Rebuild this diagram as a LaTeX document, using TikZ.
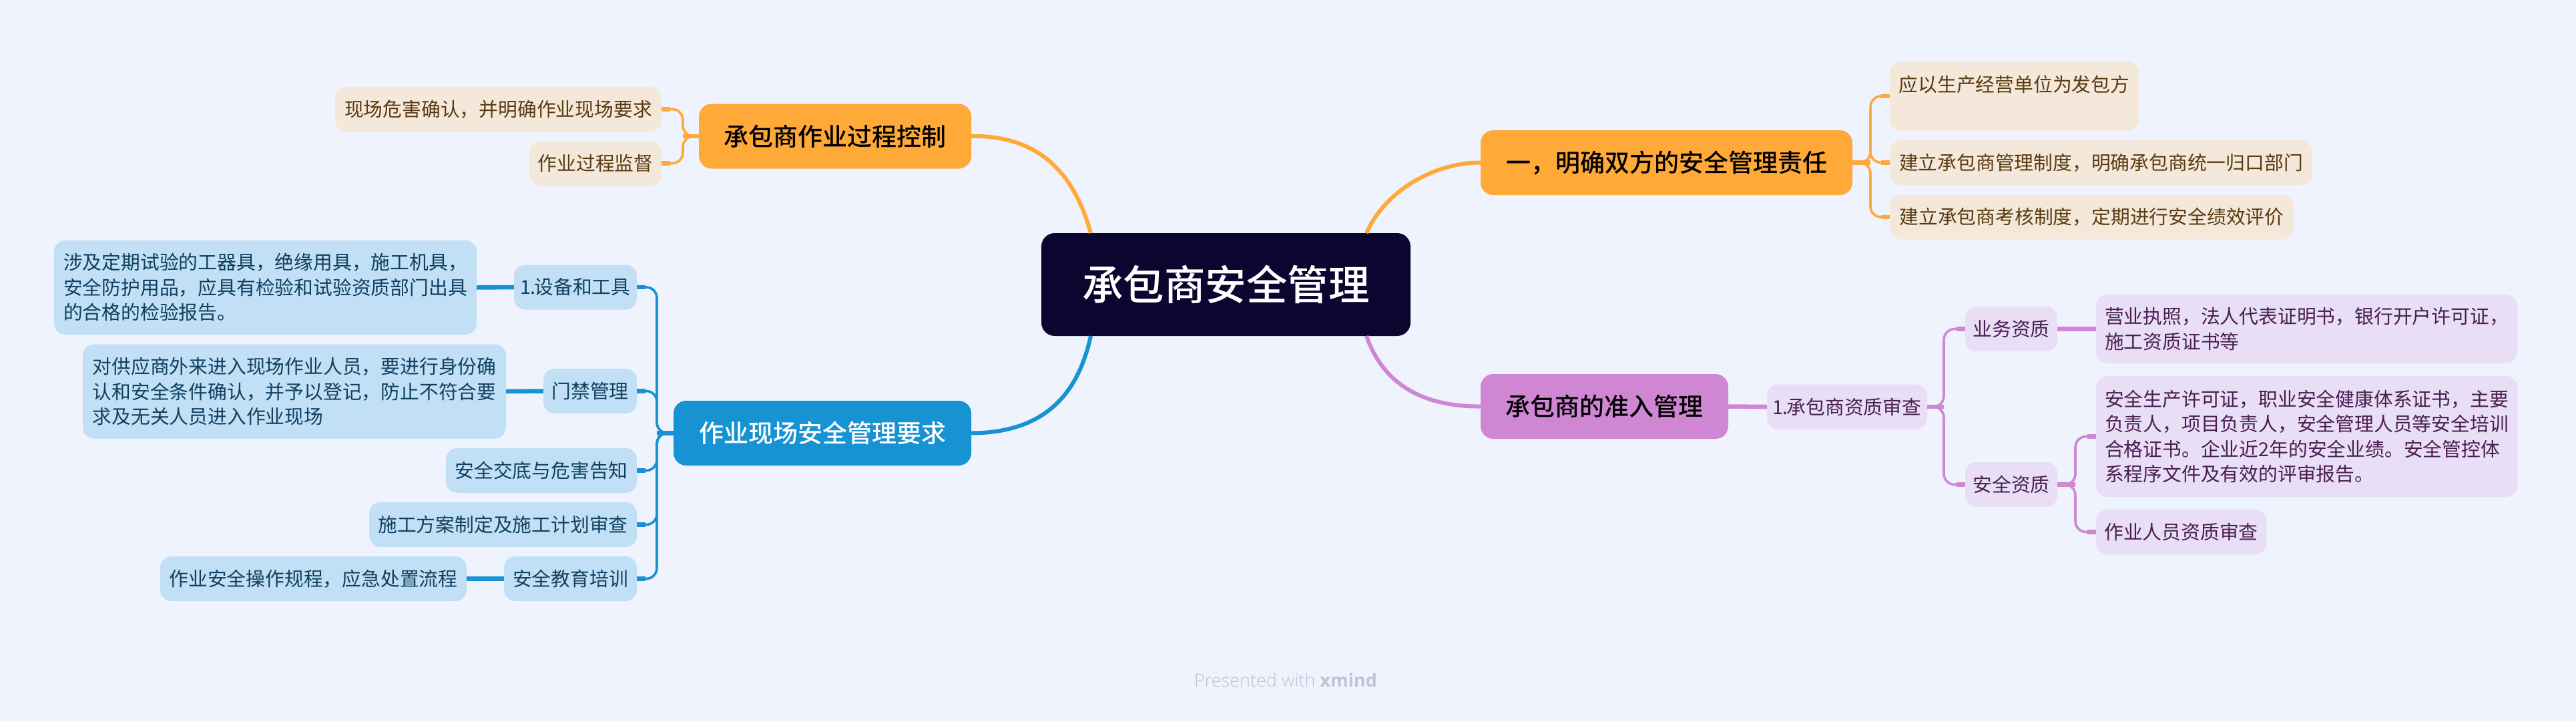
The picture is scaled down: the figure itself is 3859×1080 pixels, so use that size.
\documentclass[tikz,border=0pt]{standalone}
\usepackage{fontspec}
\usetikzlibrary{calc}
\newfontfamily\cjk{Noto Sans CJK SC}
\newfontfamily\cjkm{Noto Sans CJK SC Medium}
\newfontfamily\wm{Open Sans Light}[BoldFont=Open Sans Bold]
\definecolor{bg}{HTML}{EEF3FE}
\definecolor{ctr}{HTML}{0B0530}
\definecolor{ora}{HTML}{FFA939}
\definecolor{orl}{HTML}{F3E8DA}
\definecolor{ort}{HTML}{5A3A10}
\definecolor{blu}{HTML}{1792D2}
\definecolor{bll}{HTML}{C1DFF5}
\definecolor{blt}{HTML}{0F3F60}
\definecolor{pur}{HTML}{D087D3}
\definecolor{pul}{HTML}{E8DEF5}
\definecolor{put}{HTML}{4A1E52}
\definecolor{wmc}{HTML}{BEC4D3}
\tikzset{
  box/.style={rectangle,inner sep=0pt,align=left,draw=none},
  leaf/.style={box,rounded corners=17pt,font=\cjk\fontsize{28.8}{37.5}\selectfont},
  branch/.style={box,rounded corners=19pt,font=\cjkm\fontsize{37}{44}\selectfont,minimum height=97pt},
  oleaf/.style={leaf,fill=orl,text=ort},
  bleaf/.style={leaf,fill=bll,text=blt},
  pleaf/.style={leaf,fill=pul,text=put},
  wire/.style={line width=3.6pt,rounded corners=16pt,line cap=butt},
  stub/.style={line width=6.5pt,line cap=butt},
  main/.style={line width=6pt,line cap=butt},
}
% parent anchor, child anchor, trunk coordinate, colour, side (+1 child to the right of the trunk, -1 to the left)
\newcommand\elb[5]{%
  \draw[wire,#4] (#1) -- (#3 |- #1) -- (#3 |- #2) -- (#2);
  \draw[stub,#4] (#1) -- (#3 |- #1);
  \draw[stub,#4] (#2) -- ++({-(#5)*13pt},0pt);
}
\begin{document}
\begin{tikzpicture}[x=1pt,y=-1pt]
\useasboundingbox[fill=bg] (0,0) rectangle (3859,1080);
\coordinate (cTL) at (1634,349);
\coordinate (cTR) at (2047,349);
\coordinate (cBL) at (1634,503);
\coordinate (cBR) at (2047,503);
\coordinate (tA) at (1023,0);
\coordinate (tB) at (984,0);
\coordinate (tC) at (2802,0);
\coordinate (tD) at (2912,0);
\coordinate (tE) at (3109,0);

\node[box,rounded corners=20pt,fill=ctr,text=white,font=\cjkm\fontsize{61.5}{70}\selectfont,minimum width=553pt,minimum height=154pt] (root) at (1836.5,426) {承包商安全管理};

\node[branch,fill=ora,text=black,minimum width=408pt] (procctl) at (1251,204) {承包商作业过程控制};
\node[branch,fill=blu,text=white,minimum width=446pt] (site) at (1232,648.5) {作业现场安全管理要求};
\node[branch,fill=ora,text=black,minimum width=557pt] (resp) at (2496.5,243.5) {一，明确双方的安全管理责任};
\node[branch,fill=pur,text=black,minimum width=371pt] (entry) at (2403.5,608.5) {承包商的准入管理};

\node[oleaf,minimum width=489pt,minimum height=67pt] (hazard) at (746.5,163.5) {现场危害确认，并明确作业现场要求};
\node[oleaf,minimum width=198pt,minimum height=67pt] (superv) at (892,244.5) {作业过程监督};

\node[bleaf,minimum width=184pt,minimum height=67pt] (equip) at (862,430) {1\kern-1pt.\kern-2pt设备和工具};
\node[bleaf,minimum width=633pt,minimum height=141pt] (equipd) at (397.5,430.5) {涉及定期试验的工器具，绝缘用具，施工机具，\\安全防护用品，应具有检验和试验资质部门出具\\的合格的检验报告。};
\node[bleaf,minimum width=140pt,minimum height=67pt] (gate) at (884,585.5) {门禁管理};
\node[bleaf,minimum width=634pt,minimum height=141pt] (gated) at (441,586) {对供应商外来进入现场作业人员，要进行身份确\\认和安全条件确认，并予以登记，防止不符合要\\求及无关人员进入作业现场};
\node[bleaf,minimum width=286pt,minimum height=67pt] (brief) at (811,704.5) {安全交底与危害告知};
\node[bleaf,minimum width=401pt,minimum height=67pt] (plan) at (753.5,785.5) {施工方案制定及施工计划审查};
\node[bleaf,minimum width=199pt,minimum height=67pt] (train) at (854.5,866.5) {安全教育培训};
\node[bleaf,minimum width=459pt,minimum height=67pt] (traind) at (469.5,866.5) {作业安全操作规程，应急处置流程};

\node[oleaf,minimum width=373pt,minimum height=104pt] (r1) at (3017.5,144) {应以生产经营单位为发包方\\~};
\node[oleaf,minimum width=633pt,minimum height=67pt] (r2) at (3147.5,243.5) {建立承包商管理制度，明确承包商统一归口部门};
\node[oleaf,minimum width=605pt,minimum height=67pt] (r3) at (3133.5,325) {建立承包商考核制度，定期进行安全绩效评价};

\node[pleaf,minimum width=240pt,minimum height=67pt] (qual) at (2767,609) {1\kern-1pt.\kern-2pt承包商资质审查};
\node[pleaf,minimum width=138pt,minimum height=67pt] (biz) at (3013,492.5) {业务资质};
\node[pleaf,minimum width=631pt,minimum height=103pt] (bizd) at (3455.5,492.5) {营业执照，法人代表证明书，银行开户许可证，\\施工资质证书等};
\node[pleaf,minimum width=138pt,minimum height=67pt] (safe) at (3013,725.5) {安全资质};
\node[pleaf,minimum width=631pt,minimum height=181pt] (safed) at (3455.5,653.5) {安全生产许可证，职业安全健康体系证书，主要\\负责人，项目负责人，安全管理人员等安全培训\\合格证书。企业近2年的安全业绩。安全管控体\\系程序文件及有效的评审报告。};
\node[pleaf,minimum width=255pt,minimum height=67pt] (staff) at (3267.5,796.5) {作业人员资质审查};

\node[font=\wm\fontsize{27}{32}\selectfont,text=wmc,inner sep=0pt] (mark) at (1926,1018) {Presented with \textbf{xmind}};

\draw[main,ora] (procctl.east) .. controls (1565,202) and (1612,270) .. (cTL);
\draw[main,blu] (site.east) .. controls (1565,648) and (1615,590) .. (cBL);
\draw[main,ora] (cTR) .. controls (2075,285) and (2150,243) .. (resp.west);
\draw[main,pur] (cBR) .. controls (2070,570) and (2125,609) .. (entry.west);

\elb{procctl.west}{hazard.east}{tA}{ora}{-1}
\elb{procctl.west}{superv.east}{tA}{ora}{-1}

\elb{site.west}{equip.east}{tB}{blu}{-1}
\elb{site.west}{gate.east}{tB}{blu}{-1}
\elb{site.west}{brief.east}{tB}{blu}{-1}
\elb{site.west}{plan.east}{tB}{blu}{-1}
\elb{site.west}{train.east}{tB}{blu}{-1}
\draw[stub,blu] (equip.west) -- (equipd.east);
\draw[stub,blu] (gate.west) -- (gated.east);
\draw[stub,blu] (train.west) -- (traind.east);

\elb{resp.east}{r1.west}{tC}{ora}{1}
\elb{resp.east}{r2.west}{tC}{ora}{1}
\elb{resp.east}{r3.west}{tC}{ora}{1}

\draw[stub,pur] (entry.east) -- (qual.west);
\elb{qual.east}{biz.west}{tD}{pur}{1}
\elb{qual.east}{safe.west}{tD}{pur}{1}
\draw[stub,pur] (biz.east) -- (bizd.west);
\elb{safe.east}{safed.west}{tE}{pur}{1}
\elb{safe.east}{staff.west}{tE}{pur}{1}
\end{tikzpicture}
\end{document}
